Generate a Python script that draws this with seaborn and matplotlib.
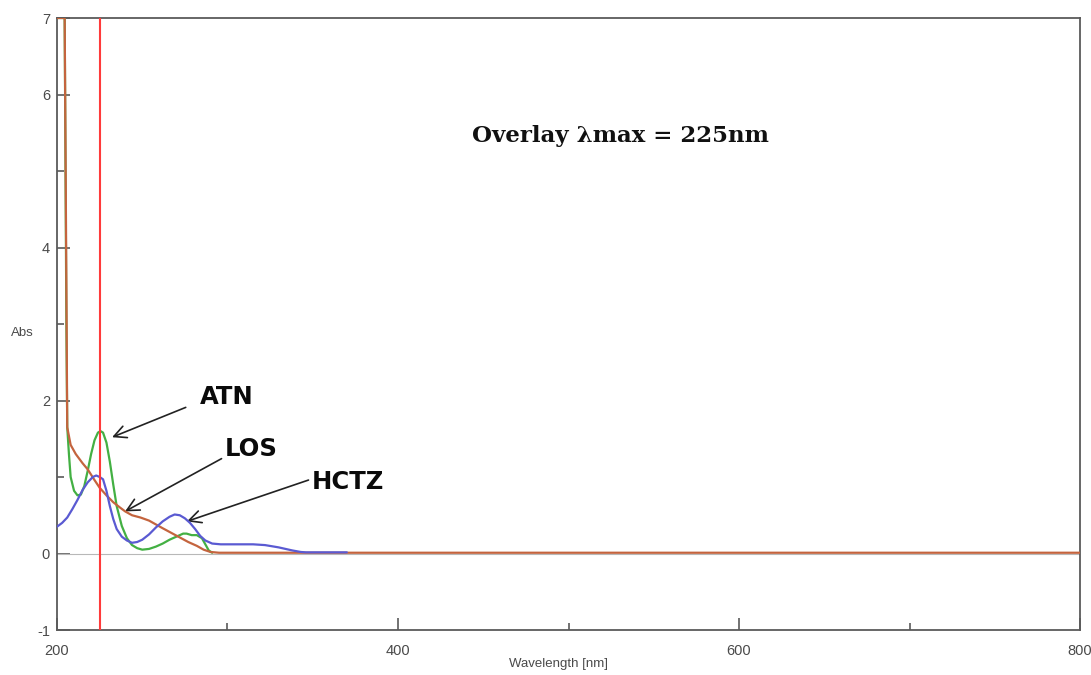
"""Overlay UV spectra of ATN, LOS and HCTZ with the 225 nm isosbestic marker."""

import matplotlib
import numpy as np
import pandas as pd
import seaborn as sns
from matplotlib import pyplot as plt
from matplotlib.ticker import FixedLocator

matplotlib.use("Agg")

# readings taken off the instrument trace (wavelength nm, absorbance)
atn_wl = [200, 204.5, 205.5, 206, 207, 208, 210, 212, 214, 216, 218, 220, 222, 224, 225.5,
          227, 229, 231, 233, 235, 238, 241, 244, 247, 250, 254, 258, 262, 266, 270, 274,
          276, 279, 282, 285, 287, 289, 291]
atn_abs = [7.0, 7.0, 3.0, 1.65, 1.3, 1.0, 0.82, 0.76, 0.77, 0.88, 1.08, 1.3, 1.48, 1.58, 1.6,
           1.58, 1.45, 1.2, 0.9, 0.62, 0.36, 0.2, 0.11, 0.07, 0.05, 0.06, 0.09, 0.13, 0.18, 0.22, 0.26,
           0.26, 0.24, 0.24, 0.2, 0.12, 0.04, 0.01]

los_wl = [200, 204.5, 205.5, 206, 208, 211, 215, 218, 222, 225, 229, 233, 237, 240, 244,
          249, 254, 258, 262, 267, 272, 277, 282, 286, 290, 295, 800]
los_abs = [7.0, 7.0, 3.5, 1.65, 1.42, 1.3, 1.18, 1.1, 0.96, 0.86, 0.76, 0.67, 0.6, 0.55, 0.5,
           0.47, 0.43, 0.38, 0.33, 0.27, 0.21, 0.15, 0.1, 0.05, 0.02, 0.01, 0.01]

hctz_wl = [200, 203, 206, 209, 212, 215, 218, 221, 223, 225, 227, 229, 231, 233, 235, 238,
           241, 244, 247, 250, 254, 258, 262, 266, 269, 272, 275, 278, 281, 284, 287, 291,
           296, 305, 315, 322, 330, 338, 343, 346, 370]
hctz_abs = [0.35, 0.4, 0.47, 0.58, 0.7, 0.83, 0.93, 1.0, 1.02, 1.0, 0.97, 0.82, 0.62, 0.45, 0.32, 0.22,
            0.17, 0.14, 0.15, 0.18, 0.25, 0.34, 0.42, 0.48, 0.51, 0.5, 0.46, 0.4, 0.32, 0.23, 0.17, 0.13,
            0.12, 0.12, 0.12, 0.11, 0.08, 0.04, 0.02, 0.015, 0.015]

LAMBDA_MAX = 225

# label text, text anchor (wl, abs), arrow tail, arrow tip
labels = ["ATN", "LOS", "HCTZ"]
label_pos = [(283.9, 2.05), (298.5, 1.37), (349.6, 0.94)]
arrow_tail = [(275.5, 1.91), (296.5, 1.24), (347.5, 0.96)]
arrow_tip = [(232.3, 1.52), (239.9, 0.55), (276.2, 0.42)]

GREEN = "#43b043"
BROWN = "#c4643e"
BLUE = "#5a5ad2"
AXIS_GREY = "#5a5a5a"

sns.set_style("white")
plt.rcParams["font.family"] = ["Liberation Sans", "DejaVu Sans"]
plt.rcParams["axes.unicode_minus"] = False

fig = plt.figure(figsize=(10.91, 6.75), dpi=100)
ax = fig.add_axes([57 / 1091, 1 - 630 / 675, 1023 / 1091, 612 / 675])

ax.axhline(0, color="#b8b8b8", lw=0.8, zorder=1)

spectra = [
    (pd.DataFrame({"wl": atn_wl, "abs": atn_abs}), GREEN, 3),
    (pd.DataFrame({"wl": los_wl, "abs": los_abs}), BROWN, 4),
    (pd.DataFrame({"wl": hctz_wl, "abs": hctz_abs}), BLUE, 5),
]
for frame, color, z in spectra:
    sns.lineplot(data=frame, x="wl", y="abs", ax=ax, color=color, lw=1.6,
                 sort=False, estimator=None, zorder=z)

ax.axvline(LAMBDA_MAX, color="#ff3b3b", lw=1.5, zorder=6)

ax.set_xlim(200, 800)
ax.set_ylim(-1, 7)
ax.xaxis.set_major_locator(FixedLocator([200, 400, 600, 800]))
ax.xaxis.set_minor_locator(FixedLocator([300, 500, 700]))
ax.yaxis.set_major_locator(FixedLocator([-1, 0, 2, 4, 6, 7]))
ax.yaxis.set_minor_locator(FixedLocator([1, 3, 5]))
ax.tick_params(which="major", direction="in", length=9, width=1.2, color=AXIS_GREY,
               labelcolor="#4a4a4a", labelsize=10.5)
ax.tick_params(which="minor", direction="in", length=5, width=1.2, color=AXIS_GREY)
ax.tick_params(axis="x", which="major", pad=10)
ax.tick_params(axis="y", which="major", pad=5)
ax.yaxis.set_tick_params(which="both", left=True)
ax.xaxis.set_tick_params(which="both", bottom=True)

for spine in ax.spines.values():
    spine.set_color(AXIS_GREY)
    spine.set_linewidth(1.3)

ax.set_xlabel("Wavelength [nm]", fontsize=9.5, color="#4a4a4a")
ax.xaxis.set_label_coords(0.49, -0.046)
ax.set_ylabel("Abs", fontsize=9.5, color="#4a4a4a", rotation=0, va="center", ha="center")
ax.yaxis.set_label_coords(-0.034, 0.485)

ax.text(443.4, 5.46, "Overlay λmax = 225nm", family="DejaVu Serif", fontweight="bold",
        fontsize=16.5, ha="left", va="center", color="#111111")

for name, pos, tail, tip in zip(labels, label_pos, arrow_tail, arrow_tip):
    ax.text(pos[0], pos[1], name, family="DejaVu Sans", fontsize=17.5, fontweight="bold",
            ha="left", va="center", color="#0a0a0a")
    ax.annotate("", xy=tip, xytext=tail,
                arrowprops=dict(arrowstyle="->", color="#222222", lw=1.2, mutation_scale=22,
                                shrinkA=0, shrinkB=0))

fig.savefig("out.png", dpi=100, facecolor="white")
